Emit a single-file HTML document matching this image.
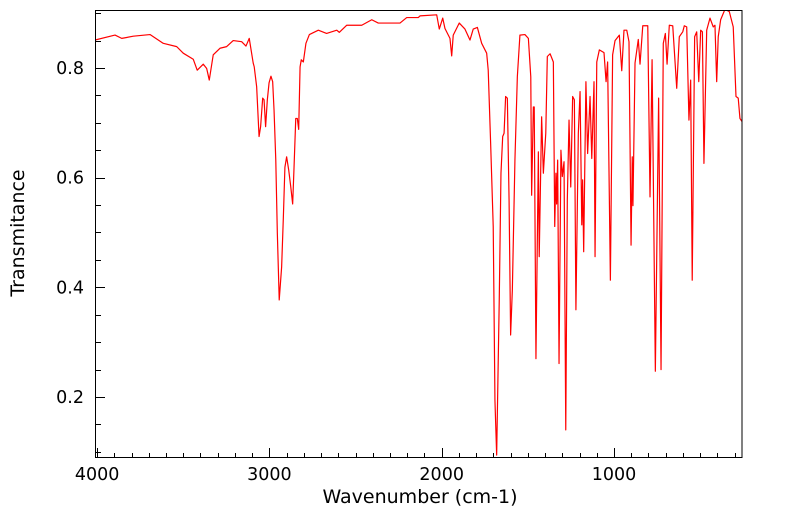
<!DOCTYPE html>
<html><head><meta charset="utf-8"><style>
html,body{margin:0;padding:0;background:#fff;}
svg{display:block;font-family:"DejaVu Sans","Liberation Sans",sans-serif;}
</style></head><body>
<svg id="chart" width="799" height="516" viewBox="0 0 799 516" xmlns="http://www.w3.org/2000/svg">
<defs><clipPath id="plotclip"><rect x="95" y="10" width="647" height="448"/></clipPath></defs>
<g id="ticks"></g>
<g id="labels"></g>
<path id="spectrum" fill="none" stroke="#ff0000" stroke-width="1.2" stroke-linejoin="round" clip-path="url(#plotclip)"/>
<rect x="95.5" y="10.5" width="646.5" height="447" fill="none" stroke="#000" stroke-width="1"/>
<text x="420" y="503" font-size="19" text-anchor="middle">Wavenumber (cm-1)</text>
<text x="24" y="233" font-size="19" text-anchor="middle" transform="rotate(-90 24 233)">Transmitance</text>
</svg>
<script>
const wavenumbers = [4012,3896,3857,3790,3693,3616,3538,3500,3442,3419,3384,3364,3349,3326,3287,3248,3210,3161,3136,3117,3094,3088,3074,3060,3051,3039,3031,3022,3012,3002,2991,2981,2973,2963,2954,2943,2929,2919,2910,2900,2888,2876,2865,2857,2847,2838,2830,2822,2815,2803,2788,2768,2716,2668,2609,2594,2551,2464,2406,2368,2242,2203,2136,2126,2029,2014,1994,1981,1952,1942,1933,1898,1865,1836,1817,1793,1768,1739,1730,1716,1701,1691,1681,1666,1656,1646,1638,1629,1619,1609,1600,1590,1575,1561,1546,1517,1497,1483,1478,1468,1463,1453,1439,1434,1420,1410,1396,1387,1371,1352,1344,1337,1333,1327,1319,1308,1300,1290,1280,1271,1261,1251,1240,1230,1221,1207,1197,1187,1182,1176,1163,1153,1139,1129,1116,1110,1100,1085,1058,1046,1037,1021,1008,994,969,955,942,926,913,901,894,890,878,859,849,833,804,791,779,760,741,727,714,702,692,679,659,636,621,601,592,578,565,555,546,532,520,508,497,487,478,462,443,424,414,404,395,381,356,331,308,292,279,269,250];
const transmittance = [0.851,0.860,0.854,0.858,0.861,0.845,0.839,0.827,0.816,0.796,0.807,0.799,0.778,0.824,0.836,0.839,0.850,0.848,0.840,0.854,0.809,0.802,0.766,0.675,0.693,0.745,0.742,0.693,0.742,0.773,0.785,0.775,0.723,0.632,0.499,0.377,0.437,0.528,0.619,0.638,0.614,0.583,0.552,0.619,0.708,0.708,0.688,0.802,0.815,0.811,0.845,0.861,0.869,0.863,0.869,0.865,0.878,0.878,0.888,0.882,0.882,0.892,0.892,0.895,0.897,0.871,0.891,0.872,0.854,0.822,0.860,0.882,0.871,0.851,0.871,0.874,0.845,0.827,0.796,0.663,0.511,0.194,0.094,0.377,0.608,0.675,0.681,0.748,0.745,0.559,0.313,0.395,0.632,0.784,0.860,0.861,0.854,0.784,0.568,0.729,0.729,0.270,0.647,0.456,0.711,0.608,0.681,0.821,0.826,0.811,0.511,0.608,0.552,0.632,0.261,0.650,0.602,0.629,0.140,0.559,0.705,0.583,0.748,0.742,0.359,0.681,0.757,0.514,0.596,0.465,0.775,0.644,0.748,0.635,0.775,0.456,0.811,0.833,0.828,0.775,0.811,0.413,0.824,0.850,0.860,0.795,0.869,0.869,0.848,0.477,0.638,0.549,0.809,0.852,0.807,0.877,0.877,0.565,0.815,0.247,0.745,0.250,0.845,0.863,0.807,0.878,0.877,0.763,0.857,0.866,0.877,0.875,0.705,0.778,0.413,0.857,0.866,0.775,0.869,0.866,0.626,0.869,0.891,0.875,0.878,0.775,0.857,0.888,0.907,0.903,0.875,0.748,0.745,0.708,0.699];
const xTickLabels = [4000,3000,2000,1000];
const yTickLabels = ["0.2","0.4","0.6","0.8"];
const yTickValues = [0.2,0.4,0.6,0.8];

const NS = "http://www.w3.org/2000/svg";
function xScale(w){ return 614 + (1000 - w) * 0.1723; }
function yScale(t){ return 68 + (0.8 - t) * 548.3; }

let d = "";
for (let i = 0; i < wavenumbers.length; i++) {
  d += (i ? "L" : "M") + xScale(wavenumbers[i]).toFixed(2) + "," + yScale(transmittance[i]).toFixed(2);
}
document.getElementById("spectrum").setAttribute("d", d);

const tg = document.getElementById("ticks");
const lg = document.getElementById("labels");
function line(x1,y1,x2,y2){
  const l = document.createElementNS(NS,"line");
  l.setAttribute("x1",x1);l.setAttribute("y1",y1);l.setAttribute("x2",x2);l.setAttribute("y2",y2);
  l.setAttribute("stroke","#000");l.setAttribute("stroke-width","1");
  
  
  tg.appendChild(l);
}
for (let w = 4000; w >= 300; w -= 100) {
  const x = Math.round(xScale(w)) + 0.5;
  const major = (w % 1000 === 0);
  line(x, 458, x, 458 - (major ? 10 : 5));
}
for (let k = 2; k <= 18; k++) {
  const t = k * 0.05;
  const y = Math.round(yScale(t)) + 0.5;
  if (y < 10 || y > 458) continue;
  const major = (k % 4 === 0);
  line(95, y, 95 + (major ? 10 : 6), y);
}
xTickLabels.forEach(function(v){
  const t = document.createElementNS(NS,"text");
  t.setAttribute("x", xScale(v)); t.setAttribute("y", 480);
  t.setAttribute("font-size","17.5"); t.setAttribute("text-anchor","middle");
  
  
  t.textContent = v;
  lg.appendChild(t);
});
yTickValues.forEach(function(v,i){
  const t = document.createElementNS(NS,"text");
  t.setAttribute("x", 84); t.setAttribute("y", yScale(v) + 6);
  t.setAttribute("font-size","17.5"); t.setAttribute("text-anchor","end");
  
  
  t.textContent = yTickLabels[i];
  lg.appendChild(t);
});
</script>
</body></html>
